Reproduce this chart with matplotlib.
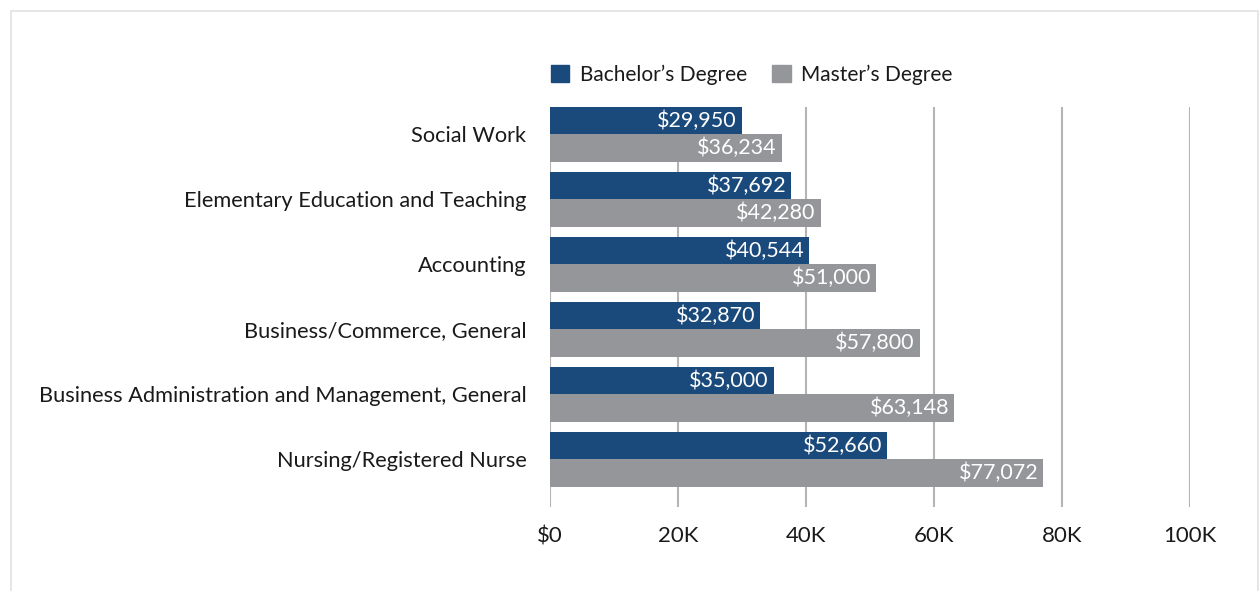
import numpy as np
import matplotlib.pyplot as plt
from matplotlib.patches import Rectangle, Patch

# ----------------------------
# Data
# ----------------------------
categories = [
    "Social Work",
    "Elementary Education and Teaching",
    "Accounting",
    "Business/Commerce, General",
    "Business Administration and Management, General",
    "Nursing/Registered Nurse",
]
bachelor = [29950, 37692, 40544, 32870, 35000, 52660]
master = [36234, 42280, 51000, 57800, 63148, 77072]
series_names = ["Bachelor\u2019s Degree", "Master\u2019s Degree"]
tick_values = [0, 20000, 40000, 60000, 80000, 100000]
tick_labels = ["$0", "20K", "40K", "60K", "80K", "100K"]

NAVY = "#1a4a7b"
GRAY = "#959699"
GRID = "#b4b4b4"
TEXT = "#1a1a1a"

plt.rcParams["font.family"] = ["Lato", "DejaVu Sans"]


def main():
    fig = plt.figure(figsize=(12.6, 5.91), dpi=100)

    # card background with light border
    card = Rectangle((11 / 1260, -0.05), 1247 / 1260, 1 - 11 / 591 + 0.05,
                     transform=fig.transFigure, facecolor="white",
                     edgecolor="#e2e2e2", linewidth=1.2, zorder=-10)
    fig.patches.append(card)

    ax = fig.add_axes([550 / 1260, 1 - 507 / 591, 640 / 1260, 400 / 591])

    y = np.arange(len(categories))
    h = 0.423
    ax.barh(y - h / 2, bachelor, height=h, color=NAVY, zorder=3)
    ax.barh(y + h / 2, master, height=h, color=GRAY, zorder=3)

    for yi, v in zip(y - h / 2, bachelor):
        ax.text(v - 800, yi, f"${v:,}", ha="right", va="center",
                color="white", fontsize=15.5, zorder=4)
    for yi, v in zip(y + h / 2, master):
        ax.text(v - 800, yi, f"${v:,}", ha="right", va="center",
                color="white", fontsize=15.5, zorder=4)

    ax.set_xlim(0, 100000)
    ax.set_ylim(5.731, -0.423)
    ax.set_xticks(tick_values)
    ax.set_xticklabels(tick_labels, fontsize=16, color=TEXT)
    ax.set_yticks(y)
    ax.set_yticklabels(categories, fontsize=15.7, color=TEXT)
    ax.tick_params(axis="both", length=0)
    ax.tick_params(axis="x", pad=14)
    ax.tick_params(axis="y", pad=17)
    ax.grid(axis="x", color=GRID, linewidth=1.5, zorder=0)
    ax.set_axisbelow(True)
    for s in ax.spines.values():
        s.set_visible(False)

    handles = [Patch(color=NAVY), Patch(color=GRAY)]
    ax.legend(handles, series_names, loc="lower left", ncol=2,
              bbox_to_anchor=(-0.012, 1.035), frameon=False, fontsize=15,
              handlelength=0.9, handleheight=0.9, handletextpad=0.5,
              columnspacing=1.2, borderaxespad=0, labelcolor=TEXT)

    fig.savefig("out.png", dpi=100)


if __name__ == "__main__":
    main()
